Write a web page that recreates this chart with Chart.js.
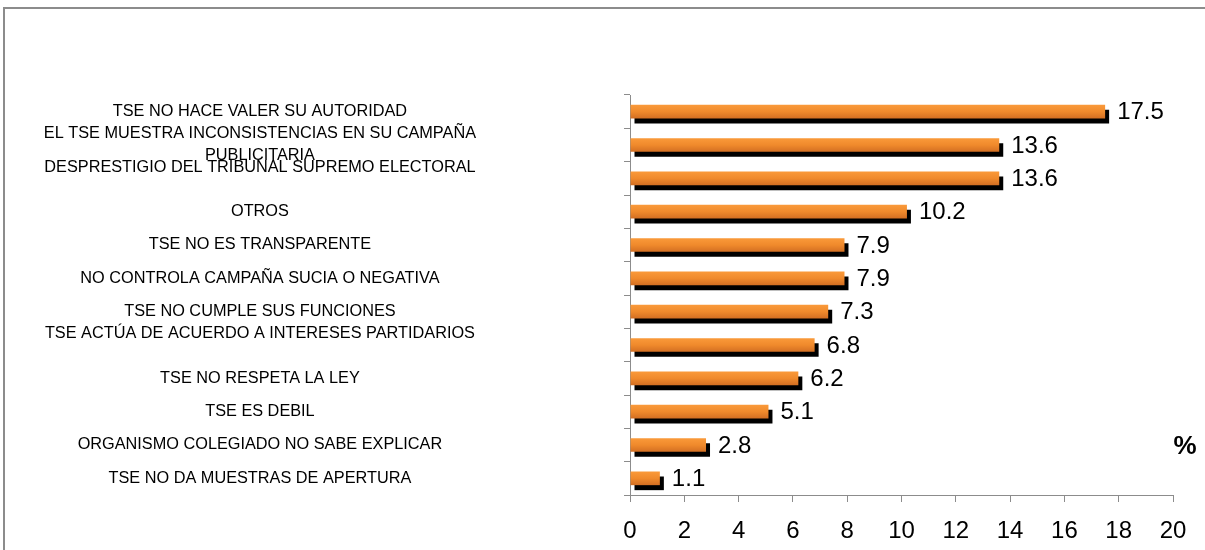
<!DOCTYPE html>
<html>
<head>
<meta charset="utf-8">
<script src="https://cdn.jsdelivr.net/npm/chart.js@4"></script>
<style>
  html, body { margin: 0; padding: 0; background: #fff; }
  #wrap { position: relative; width: 1205px; height: 550px; }
</style>
</head>
<body>
<div id="wrap"><canvas id="motivos-chart" width="1205" height="550"></canvas></div>
<script>
const categorias = [
  'TSE NO HACE VALER SU AUTORIDAD',
  ['EL TSE MUESTRA INCONSISTENCIAS EN SU CAMPAÑA', 'PUBLICITARIA'],
  ['DESPRESTIGIO DEL TRIBUNAL SUPREMO ELECTORAL', ''],
  'OTROS',
  'TSE NO ES TRANSPARENTE',
  'NO CONTROLA CAMPAÑA SUCIA O NEGATIVA',
  'TSE NO CUMPLE SUS FUNCIONES',
  ['TSE ACTÚA DE ACUERDO A INTERESES PARTIDARIOS', ''],
  'TSE NO RESPETA LA LEY',
  'TSE ES DEBIL',
  'ORGANISMO COLEGIADO NO SABE EXPLICAR',
  'TSE NO DA MUESTRAS DE APERTURA'
];
const porcentajes = [17.5, 13.6, 13.6, 10.2, 7.9, 7.9, 7.3, 6.8, 6.2, 5.1, 2.8, 1.1];
const ejeMin = 0;
const ejeMax = 20;
const ejePaso = 2;

const FONT = '"Liberation Sans", Arial, sans-serif';

// degradado naranja por barra
function naranja(ctx) {
  const chart = ctx.chart;
  const y = chart.scales.y;
  if (!chart.chartArea || !y) return '#F08A2C';
  const cy = y.getPixelForValue(ctx.dataIndex);
  const g = chart.ctx.createLinearGradient(0, cy - 7, 0, cy + 7);
  g.addColorStop(0, '#FA9A3A');
  g.addColorStop(0.5, '#F08A2C');
  g.addColorStop(1, '#D26E22');
  return g;
}

// sombra negra desplazada bajo las barras + etiquetas de valor
const sombraYValores = {
  id: 'sombraYValores',
  beforeDatasetsDraw(chart) {
    const c = chart.ctx;
    c.save();
    c.shadowColor = '#000';
    c.shadowOffsetX = 4;
    c.shadowOffsetY = 5;
    c.shadowBlur = 0;
  },
  afterDatasetsDraw(chart) {
    const c = chart.ctx;
    c.restore();
    const meta = chart.getDatasetMeta(0);
    c.save();
    c.font = '24px ' + FONT;
    c.fillStyle = '#000';
    c.textAlign = 'left';
    c.textBaseline = 'middle';
    meta.data.forEach((bar, i) => {
      c.fillText(porcentajes[i].toFixed(1), bar.x + 12, bar.y + 1);
    });
    // signo de porcentaje
    c.font = 'bold 26px ' + FONT;
    c.textAlign = 'center';
    const yPct = chart.scales.y.getPixelForValue(10);
    c.fillText('%', chart.chartArea.right + 12, yPct + 2);
    c.restore();
  },
  beforeDraw(chart) {
    const c = chart.ctx;
    c.save();
    c.strokeStyle = '#8c8c8c';
    c.lineWidth = 2;
    c.beginPath();
    c.moveTo(4, chart.height + 5);
    c.lineTo(4, 8);
    c.lineTo(chart.width + 5, 8);
    c.stroke();
    c.restore();
  }
};

new Chart(document.getElementById('motivos-chart'), {
  type: 'bar',
  data: {
    labels: categorias,
    datasets: [{
      label: '%',
      data: porcentajes,
      backgroundColor: naranja,
      borderWidth: 0,
      barPercentage: 0.41,
      categoryPercentage: 1
    }]
  },
  plugins: [sombraYValores],
  options: {
    indexAxis: 'y',
    responsive: false,
    animation: false,
    layout: { padding: { top: 95, right: 32, bottom: 0, left: 0 } },
    plugins: {
      legend: { display: false },
      tooltip: { enabled: false }
    },
    scales: {
      x: {
        min: ejeMin,
        max: ejeMax,
        afterFit(scale) {
          scale.height = 55;
          scale.paddingLeft = 0;
          scale.paddingRight = 0;
        },
        ticks: {
          stepSize: ejePaso,
          color: '#000',
          padding: 15,
          font: { family: FONT, size: 24 }
        },
        grid: { drawOnChartArea: false, color: '#8c8c8c', tickLength: 7 },
        border: { color: '#8c8c8c', width: 1 }
      },
      y: {
        afterFit(scale) {
          scale.width = 630;
          scale.paddingTop = 0;
          scale.paddingBottom = 0;
        },
        ticks: {
          color: '#000',
          autoSkip: false,
          crossAlign: 'center',
          padding: 148,
          font: { family: FONT, size: 16.3, lineHeight: 1.35 }
        },
        grid: { drawOnChartArea: false, color: '#8c8c8c', tickLength: 6, offset: true },
        border: { color: '#8c8c8c', width: 1 }
      }
    }
  }
});
</script>
</body>
</html>
